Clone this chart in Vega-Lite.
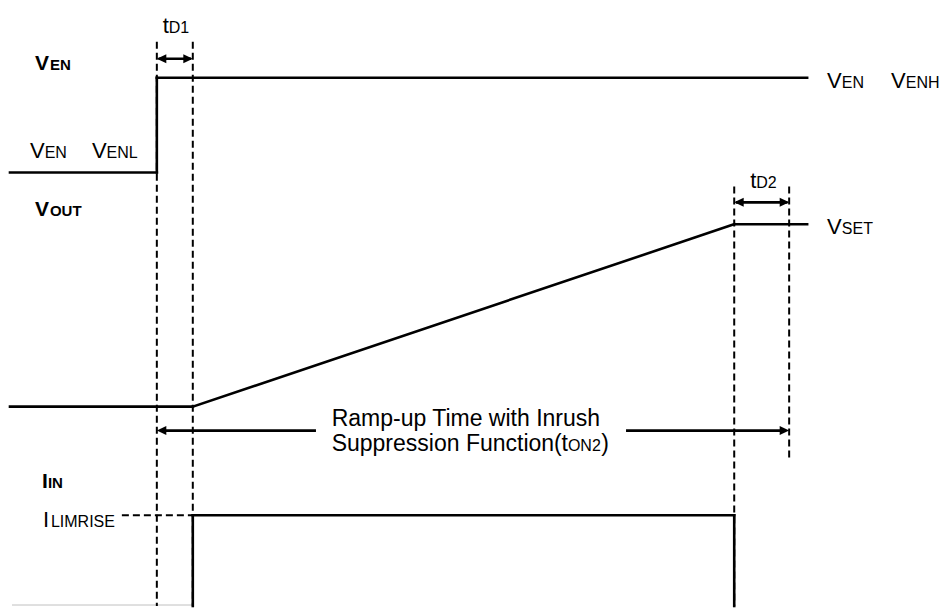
{
  "$schema": "https://vega.github.io/schema/vega-lite/v6.json",
  "width": 940,
  "height": 608,
  "padding": 0,
  "autosize": {"type": "fit", "contains": "padding"},
  "background": "white",
  "config": {"view": {"stroke": null}, "text": {"font": "Liberation Sans", "color": "#000000"}},
  "datasets": {
    "solid": [
      {"signal": "VEN", "x": 10, "y": 173, "x2": 157, "y2": 173},
      {"signal": "VEN", "x": 157, "y": 173, "x2": 157, "y2": 78},
      {"signal": "VEN", "x": 157, "y": 78, "x2": 808, "y2": 78},
      {"signal": "VOUT", "x": 10, "y": 408, "x2": 193, "y2": 408},
      {"signal": "VOUT", "x": 193, "y": 408, "x2": 735, "y2": 225},
      {"signal": "VOUT", "x": 735, "y": 225, "x2": 808, "y2": 225},
      {"signal": "IIN", "x": 193, "y": 608, "x2": 193, "y2": 517},
      {"signal": "IIN", "x": 193, "y": 517, "x2": 735, "y2": 517},
      {"signal": "IIN", "x": 735, "y": 517, "x2": 735, "y2": 608},
      {"signal": "tD1", "x": 160, "y": 59, "x2": 190, "y2": 59},
      {"signal": "tD2", "x": 738, "y": 203, "x2": 787, "y2": 203},
      {"signal": "tON2", "x": 162, "y": 432, "x2": 315, "y2": 432},
      {"signal": "tON2", "x": 628, "y": 432, "x2": 785, "y2": 432}
    ],
    "dashed": [
      {"x": 157, "y": 42, "x2": 157, "y2": 608},
      {"x": 193, "y": 42, "x2": 193, "y2": 608},
      {"x": 735, "y": 187, "x2": 735, "y2": 608},
      {"x": 790, "y": 187, "x2": 790, "y2": 463},
      {"x": 122, "y": 517, "x2": 193, "y2": 517}
    ],
    "zero": [
      {"x": 12, "y": 607, "x2": 193, "y2": 607}
    ],
    "heads": [
      {"x": 157, "y": 59, "dir": "left"},
      {"x": 193, "y": 59, "dir": "right"},
      {"x": 735, "y": 203, "dir": "left"},
      {"x": 790, "y": 203, "dir": "right"},
      {"x": 157, "y": 432, "dir": "left"},
      {"x": 790, "y": 432, "dir": "right"}
    ],
    "mainText": [
      {"x": 163, "y": 33, "label": "t"},
      {"x": 30, "y": 159, "label": "V"},
      {"x": 92, "y": 159, "label": "V"},
      {"x": 828, "y": 88, "label": "V"},
      {"x": 892, "y": 88, "label": "V"},
      {"x": 828, "y": 235, "label": "V"},
      {"x": 751, "y": 189, "label": "t"},
      {"x": 43, "y": 529, "label": "I"}
    ],
    "subText": [
      {"x": 169, "y": 33, "label": "D1"},
      {"x": 44.7, "y": 159, "label": "EN"},
      {"x": 106.7, "y": 159, "label": "ENL"},
      {"x": 842.7, "y": 88, "label": "EN"},
      {"x": 906.7, "y": 88, "label": "ENH"},
      {"x": 842.7, "y": 235, "label": "SET"},
      {"x": 757, "y": 189, "label": "D2"},
      {"x": 51, "y": 529, "label": "LIMRISE"},
      {"x": 568.5, "y": 452, "label": "ON2"}
    ],
    "boldText": [
      {"x": 35, "y": 70, "label": "V"},
      {"x": 35, "y": 217, "label": "V"},
      {"x": 42, "y": 490, "label": "I"}
    ],
    "boldSub": [
      {"x": 50, "y": 70, "label": "EN"},
      {"x": 50, "y": 217, "label": "OUT"},
      {"x": 48, "y": 490, "label": "IN"}
    ],
    "caption": [
      {"x": 332, "y": 427, "label": "Ramp-up Time with Inrush"},
      {"x": 332, "y": 452, "label": "Suppression Function("},
      {"x": 562, "y": 452, "label": "t"},
      {"x": 602, "y": 452, "label": ")"}
    ]
  },
  "layer": [
    {
      "data": {"name": "zero"},
      "mark": {"type": "rule", "color": "#c0c0c0", "strokeWidth": 1},
      "encoding": {
        "x": {"field": "x", "type": "quantitative", "scale": {"domain": [0, 940], "nice": false, "zero": false}, "axis": null},
        "x2": {"field": "x2"},
        "y": {"field": "y", "type": "quantitative", "scale": {"domain": [0, 608], "nice": false, "zero": false, "reverse": true}, "axis": null},
        "y2": {"field": "y2"}
      }
    },
    {
      "data": {"name": "dashed"},
      "mark": {"type": "rule", "color": "#000000", "strokeWidth": 2, "strokeDash": [7, 4]},
      "encoding": {
        "x": {"field": "x", "type": "quantitative"},
        "x2": {"field": "x2"},
        "y": {"field": "y", "type": "quantitative"},
        "y2": {"field": "y2"}
      }
    },
    {
      "data": {"name": "solid"},
      "mark": {"type": "rule", "color": "#000000", "strokeWidth": 2.6, "strokeCap": "square"},
      "encoding": {
        "x": {"field": "x", "type": "quantitative"},
        "x2": {"field": "x2"},
        "y": {"field": "y", "type": "quantitative"},
        "y2": {"field": "y2"}
      }
    },
    {
      "data": {"name": "heads"},
      "mark": {"type": "point", "filled": true, "color": "#000000", "opacity": 1, "size": 90, "strokeWidth": 0},
      "encoding": {
        "x": {"field": "x", "type": "quantitative"},
        "y": {"field": "y", "type": "quantitative"},
        "shape": {"field": "dir", "type": "nominal", "scale": {"domain": ["left", "right"], "range": ["M0,0L2,-0.95L2,0.95Z", "M0,0L-2,-0.95L-2,0.95Z"]}, "legend": null}
      }
    },
    {
      "data": {"name": "mainText"},
      "mark": {"type": "text", "align": "left", "baseline": "alphabetic", "fontSize": 22},
      "encoding": {
        "x": {"field": "x", "type": "quantitative"},
        "y": {"field": "y", "type": "quantitative"},
        "text": {"field": "label"}
      }
    },
    {
      "data": {"name": "subText"},
      "mark": {"type": "text", "align": "left", "baseline": "alphabetic", "fontSize": 16},
      "encoding": {
        "x": {"field": "x", "type": "quantitative"},
        "y": {"field": "y", "type": "quantitative"},
        "text": {"field": "label"}
      }
    },
    {
      "data": {"name": "boldText"},
      "mark": {"type": "text", "align": "left", "baseline": "alphabetic", "fontSize": 21, "fontWeight": "bold"},
      "encoding": {
        "x": {"field": "x", "type": "quantitative"},
        "y": {"field": "y", "type": "quantitative"},
        "text": {"field": "label"}
      }
    },
    {
      "data": {"name": "boldSub"},
      "mark": {"type": "text", "align": "left", "baseline": "alphabetic", "fontSize": 15, "fontWeight": "bold"},
      "encoding": {
        "x": {"field": "x", "type": "quantitative"},
        "y": {"field": "y", "type": "quantitative"},
        "text": {"field": "label"}
      }
    },
    {
      "data": {"name": "caption"},
      "mark": {"type": "text", "align": "left", "baseline": "alphabetic", "fontSize": 23},
      "encoding": {
        "x": {"field": "x", "type": "quantitative"},
        "y": {"field": "y", "type": "quantitative"},
        "text": {"field": "label"}
      }
    }
  ]
}
